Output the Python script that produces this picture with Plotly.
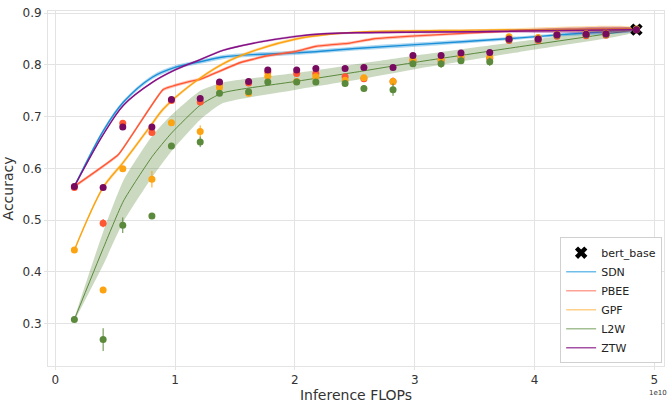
import plotly.graph_objects as go

# ---------------- data ----------------
# smoothed curves (mean) and std bands
SDN_x = [0.16, 0.40, 0.57, 0.81, 1.00, 1.21, 1.40, 1.68, 2.01, 2.54, 3.01, 3.875, 4.21, 4.85]
SDN_y = [0.565, 0.672, 0.728, 0.776, 0.795, 0.806, 0.815, 0.820, 0.823, 0.832, 0.839, 0.852, 0.858, 0.868]
SDN_s = [0.003, 0.004, 0.004, 0.004, 0.004, 0.004, 0.004, 0.004, 0.004, 0.004, 0.004, 0.003, 0.003, 0.002]

PBEE_x = [0.16, 0.53, 0.90, 1.125, 1.21, 1.54, 1.76, 2.01, 2.18, 2.46, 2.65, 3.01, 3.875, 4.85]
PBEE_y = [0.565, 0.627, 0.752, 0.768, 0.772, 0.804, 0.817, 0.826, 0.836, 0.842, 0.850, 0.856, 0.866, 0.870]
PBEE_s = [0.003, 0.003, 0.003, 0.003, 0.003, 0.003, 0.003, 0.003, 0.003, 0.003, 0.003, 0.003, 0.002, 0.002]

GPF_x = [0.16, 0.40, 0.57, 0.79, 0.90, 1.125, 1.40, 1.68, 2.01, 2.29, 2.60, 3.50, 4.85]
GPF_y = [0.442, 0.563, 0.612, 0.680, 0.714, 0.760, 0.802, 0.829, 0.850, 0.859, 0.864, 0.867, 0.870]
GPF_s = [0.003, 0.004, 0.004, 0.004, 0.004, 0.003, 0.003, 0.003, 0.003, 0.002, 0.002, 0.002, 0.002]

L2W_x = [0.16, 0.40, 0.57, 0.81, 0.97, 1.21, 1.40, 2.01, 2.54, 3.01, 3.875, 4.85]
L2W_y = [0.308, 0.445, 0.537, 0.623, 0.668, 0.722, 0.746, 0.768, 0.787, 0.805, 0.835, 0.868]
L2W_s = [0.003, 0.032, 0.040, 0.040, 0.035, 0.028, 0.020, 0.016, 0.015, 0.013, 0.010, 0.004]

ZTW_x = [0.16, 0.40, 0.57, 0.81, 1.00, 1.21, 1.40, 1.68, 2.01, 2.24, 2.54, 3.50, 4.85]
ZTW_y = [0.565, 0.665, 0.722, 0.766, 0.790, 0.810, 0.828, 0.843, 0.855, 0.860, 0.862, 0.864, 0.868]
ZTW_s = [0.002, 0.002, 0.002, 0.002, 0.002, 0.002, 0.002, 0.002, 0.002, 0.002, 0.002, 0.002, 0.002]

# per-classifier points
PTS_x = [0.16, 0.40, 0.564, 0.807, 0.97, 1.21, 1.371, 1.614, 1.774, 2.015, 2.175, 2.419,
         2.576, 2.819, 2.985, 3.22, 3.386, 3.626, 3.787, 4.03, 4.187, 4.43, 4.596, 4.85]
PBEE_pts = [0.563, 0.494, 0.687, 0.669, 0.731, 0.728, 0.764, 0.765, 0.786, 0.783, 0.783, 0.777,
            0.773, 0.768, 0.808, 0.808, 0.813, 0.812, 0.847, 0.847, 0.855, 0.856, 0.857, 0.868]
PBEE_err = [0.004, 0.008, 0.004, 0.004, 0.004, 0.004, 0.004, 0.004, 0.004, 0.004, 0.004, 0.004,
            0.006, 0.008, 0.004, 0.004, 0.004, 0.004, 0.004, 0.004, 0.003, 0.003, 0.003, 0.002]
GPF_pts = [0.442, 0.365, 0.599, 0.579, 0.688, 0.671, 0.756, 0.745, 0.778, 0.768, 0.777, 0.770,
           0.775, 0.768, 0.811, 0.811, 0.818, 0.815, 0.854, 0.853, 0.859, 0.860, 0.861, 0.869]
GPF_err = [0.004, 0.006, 0.004, 0.016, 0.004, 0.012, 0.004, 0.004, 0.004, 0.004, 0.004, 0.004,
           0.004, 0.006, 0.004, 0.004, 0.004, 0.004, 0.004, 0.004, 0.003, 0.003, 0.003, 0.002]
L2W_pts = [0.308, 0.269, 0.490, 0.508, 0.643, 0.651, 0.745, 0.748, 0.767, 0.767, 0.767, 0.764,
           0.754, 0.752, 0.802, 0.802, 0.808, 0.806, 0.849, 0.849, 0.857, 0.858, 0.859, 0.868]
L2W_err = [0.004, 0.022, 0.015, 0.005, 0.004, 0.010, 0.004, 0.005, 0.004, 0.004, 0.004, 0.006,
           0.006, 0.012, 0.006, 0.008, 0.006, 0.008, 0.004, 0.004, 0.003, 0.003, 0.003, 0.002]
ZTW_pts = [0.565, 0.563, 0.680, 0.680, 0.733, 0.735, 0.767, 0.768, 0.790, 0.790, 0.793, 0.793,
           0.795, 0.795, 0.818, 0.818, 0.823, 0.824, 0.850, 0.850, 0.858, 0.859, 0.860, 0.868]
ZTW_err = [0.003] * 24

BERT_x = [4.85]
BERT_y = [0.868]

X_TICKS = [0, 1, 2, 3, 4, 5]
Y_TICKS = [0.3, 0.4, 0.5, 0.6, 0.7, 0.8, 0.9]

# ---------------- styles ----------------
C_SDN = "#1a8fd8"
C_PBEE = "#ff5733"
C_GPF = "#fca311"
C_L2W = "#5b8a3c"
C_ZTW = "#850f85"
C_ZTW_PT = "#780b5f"

LEG_COL = {"SDN": "#6fbde9", "PBEE": "#ffa296", "GPF": "#ffd08a", "L2W": "#a3bf94", "ZTW": "#a552a5"}


def rgba(hexc, a):
    h = hexc.lstrip("#")
    r, g, b = int(h[0:2], 16), int(h[2:4], 16), int(h[4:6], 16)
    return f"rgba({r},{g},{b},{a})"


fig = go.Figure()


def add_curve(x, y, s, color, band_alpha, width=1.4, shape="linear", smooth=0.0):
    up = [a + b for a, b in zip(y, s)]
    lo = [a - b for a, b in zip(y, s)]
    ln = dict(width=0, shape=shape)
    lw = dict(color=color, width=width, shape=shape)
    if shape == "spline":
        ln["smoothing"] = smooth
        lw["smoothing"] = smooth
    fig.add_trace(go.Scatter(x=x + x[::-1], y=up + lo[::-1], fill="toself",
                             fillcolor=rgba(color, band_alpha), line=ln,
                             mode="lines", hoverinfo="skip", showlegend=False))
    fig.add_trace(go.Scatter(x=x, y=y, mode="lines", line=lw, showlegend=False))


add_curve(L2W_x, L2W_y, L2W_s, C_L2W, 0.32, 1.0, "spline", 0.5)
add_curve(SDN_x, SDN_y, SDN_s, C_SDN, 0.35, 1.4, "spline", 0.9)
add_curve(PBEE_x, PBEE_y, PBEE_s, C_PBEE, 0.35, 1.4, "spline", 0.3)
add_curve(GPF_x, GPF_y, GPF_s, C_GPF, 0.35, 1.4, "spline", 0.9)
add_curve(ZTW_x, ZTW_y, ZTW_s, C_ZTW, 0.35, 1.4, "spline", 0.9)

# bert_base marker
fig.add_trace(go.Scatter(x=BERT_x, y=BERT_y, mode="markers", name="bert_base",
                         marker=dict(symbol="x", size=11, color="black",
                                     line=dict(width=0)), showlegend=True))


def add_points(y, err, color):
    fig.add_trace(go.Scatter(x=PTS_x, y=y, mode="markers",
                             marker=dict(size=7, color=color, line=dict(width=0)),
                             error_y=dict(type="data", array=err, color=color,
                                          thickness=1, width=0),
                             showlegend=False))


add_points(PBEE_pts, PBEE_err, C_PBEE)
add_points(GPF_pts, GPF_err, C_GPF)
add_points(L2W_pts, L2W_err, C_L2W)
add_points(ZTW_pts, ZTW_err, C_ZTW_PT)

# legend-only line entries
for nm in ["SDN", "PBEE", "GPF", "L2W", "ZTW"]:
    fig.add_trace(go.Scatter(x=[None], y=[None], mode="lines", name=nm,
                             line=dict(color=LEG_COL[nm], width=1.5)))

grid = "#e3e3e3"
fig.update_layout(
    width=667, height=403,
    margin=dict(l=48, r=2, t=11, b=35),
    paper_bgcolor="white", plot_bgcolor="white",
    font=dict(family="DejaVu Sans", color="#333333", size=12),
    showlegend=True,
    legend=dict(x=0.997, y=0.008, xanchor="right", yanchor="bottom",
                bgcolor="white", bordercolor="#d0d0d0", borderwidth=1,
                font=dict(size=11, color="#222222"), tracegroupgap=0,
                itemwidth=30),
    xaxis=dict(range=[-0.06, 5.08], tickvals=X_TICKS, ticktext=[str(v) for v in X_TICKS],
               showgrid=True, gridcolor=grid, gridwidth=1, zeroline=False,
               showline=True, linecolor=grid, linewidth=1, mirror=True,
               ticks="outside", ticklen=3, tickcolor=grid,
               tickfont=dict(size=12, color="#333333"),
               title=dict(text="Inference FLOPs", font=dict(size=14, color="#333333"), standoff=4)),
    yaxis=dict(range=[0.218, 0.904], tickvals=Y_TICKS, ticktext=[f"{v:.1f}" for v in Y_TICKS],
               showgrid=True, gridcolor=grid, gridwidth=1, zeroline=False,
               showline=True, linecolor=grid, linewidth=1, mirror=True,
               ticks="outside", ticklen=3, tickcolor=grid,
               tickfont=dict(size=12, color="#333333"),
               title=dict(text="Accuracy", font=dict(size=14, color="#333333"), standoff=6)),
    annotations=[dict(text="1e10", xref="paper", yref="paper", x=0.99, y=-0.075,
                      xanchor="center", yanchor="middle", showarrow=False,
                      font=dict(size=7, color="#333333"))],
)

fig.write_html("out.html")
